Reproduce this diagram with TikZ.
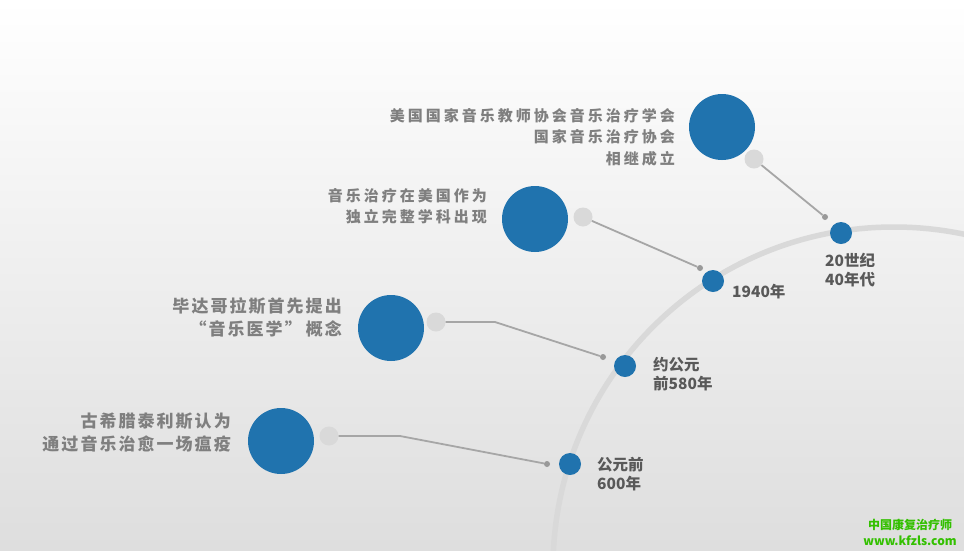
\documentclass[tikz,border=0pt]{standalone}
\usepackage{fontspec}
\setmainfont{Noto Sans CJK SC}
\newfontfamily\descfont{Noto Sans CJK SC}[LetterSpace=20]
\newfontfamily\descfontb{Noto Sans CJK SC}[LetterSpace=12]
\newfontfamily\datefont{Noto Sans CJK SC}
\definecolor{bigblue}{HTML}{2073AE}
\definecolor{ringgray}{HTML}{D9D9D9}
\definecolor{linegray}{HTML}{A6A6A6}
\definecolor{dotgray}{HTML}{999999}
\definecolor{desctext}{HTML}{7F7F7F}
\definecolor{datetext}{HTML}{595959}
\definecolor{wmgreen}{HTML}{33C000}
\tikzset{
  bigdot/.style={circle,fill=bigblue,minimum size=66pt,inner sep=0},
  graydot/.style={circle,fill=ringgray,minimum size=19pt,inner sep=0},
  smalldot/.style={circle,fill=bigblue,minimum size=22pt,inner sep=0},
  enddot/.style={circle,fill=dotgray,minimum size=6pt,inner sep=0},
  conn/.style={draw=linegray,line width=1.8pt},
  desc/.style={anchor=north east,inner sep=0,align=right,text=desctext,font=\descfont\bfseries\fontsize{15}{21.5}\selectfont},
  descb/.style={anchor=north east,inner sep=0,align=right,text=desctext,font=\descfontb\bfseries\fontsize{17}{23}\selectfont},
  datelbl/.style={anchor=north west,inner sep=0,align=left,text=datetext,font=\datefont\bfseries\fontsize{15.5}{19}\selectfont},
}
\begin{document}
\begin{tikzpicture}[x=1pt,y=-1pt]
\shade[top color=white,bottom color=black!13] (0,0) rectangle (964,550);
\useasboundingbox (0,0) rectangle (964,550);
\begin{scope}
\clip (0,0) rectangle (964,550);
\draw[ringgray,line width=5.5pt] (894,568) circle[radius=341pt];
\end{scope}
% big circles
\node[bigdot] (b1) at (722,127) {};
\node[bigdot] (b2) at (535,219) {};
\node[bigdot] (b3) at (391,328) {};
\node[bigdot] (b4) at (281,441) {};
% gray circles
\node[graydot] (g1) at (754,159) {};
\node[graydot] (g2) at (583,217) {};
\node[graydot] (g3) at (436,322) {};
\node[graydot] (g4) at (329,436) {};
% end dots
\node[enddot] (e1) at (825,217) {};
\node[enddot] (e2) at (700,268) {};
\node[enddot] (e3) at (603,357) {};
\node[enddot] (e4) at (547,464) {};
% timeline dots
\node[smalldot] (s1) at (841,233) {};
\node[smalldot] (s2) at (713,281) {};
\node[smalldot] (s3) at (625,366) {};
\node[smalldot] (s4) at (570,464) {};
% connectors
\coordinate (k3) at (495,322);
\coordinate (k4) at (400,436);
\draw[conn] (g1) -- (e1);
\draw[conn] (g2) -- (e2);
\draw[conn] (g3) -- (k3) -- (e3);
\draw[conn] (g4) -- (k4) -- (e4);
% descriptions
\node[desc] (t1) at (675,108) {美国国家音乐教师协会音乐治疗学会\\国家音乐治疗协会\\相继成立};
\node[desc] (t2) at (487,188) {音乐治疗在美国作为\\独立完整学科出现};
\node[descb] (t3) at (342,297) {毕达哥拉斯首先提出\\“音乐医学”\hspace{4pt}概念};
\node[descb] (t4) at (231,413) {古希腊泰利斯认为\\通过音乐治愈一场瘟疫};
% dates
\node[datelbl] (d1) at (825,253) {20世纪\\40年代};
\node[datelbl] (d2) at (732,284) {1940年};
\node[datelbl] (d3) at (653,357) {约公元\\前580年};
\node[datelbl] (d4) at (597,457) {公元前\\600年};
% watermark
\node[text=wmgreen,font=\bfseries\fontsize{12}{16}\selectfont,align=center,inner sep=0] (wm) at (910,532) {中国康复治疗师\\www.kfzls.com};
\end{tikzpicture}
\end{document}
